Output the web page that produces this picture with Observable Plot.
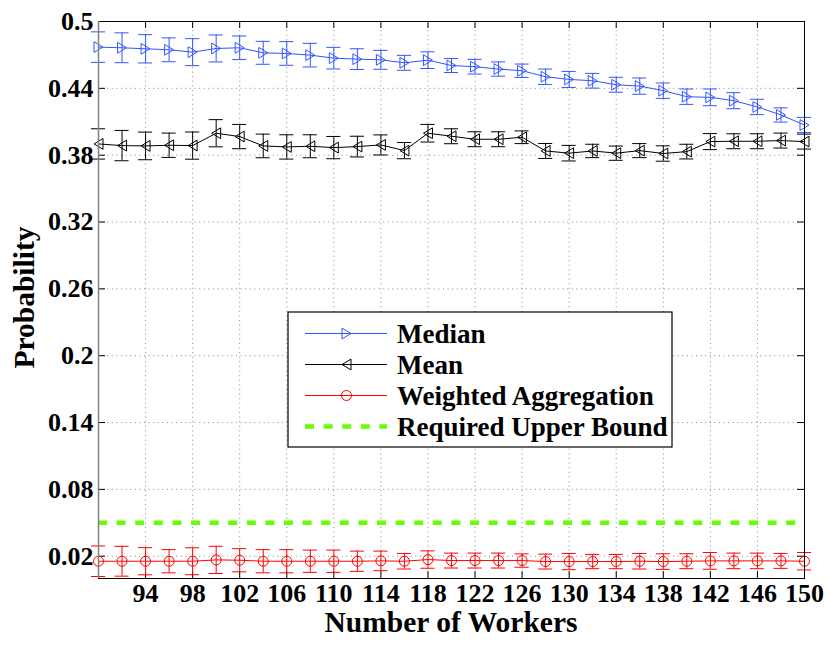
<!DOCTYPE html>
<html>
<head>
<meta charset="utf-8">
<script src="https://cdn.jsdelivr.net/npm/d3@7"></script>
<script src="https://cdn.jsdelivr.net/npm/@observablehq/plot@0.6"></script>
<style>
  body { margin: 0; background: #fff; }
  #chart svg { overflow: visible; display: block; }
</style>
</head>
<body>
<div id="chart"></div>
<script>
// ---- data ----
const workers = [90,92,94,96,98,100,102,104,106,108,110,112,114,116,118,120,122,124,126,128,130,132,134,136,138,140,142,144,146,148,150];
const median = [0.477,0.4764,0.4755,0.4746,0.4725,0.4758,0.4764,0.4719,0.4713,0.4698,0.4671,0.4662,0.4656,0.4629,0.4653,0.4605,0.4594,0.4573,0.4558,0.4504,0.448,0.4468,0.4432,0.442,0.4379,0.4325,0.4319,0.4289,0.4233,0.4161,0.4071];
const medianErr = [0.0137,0.0134,0.0127,0.0107,0.0121,0.0121,0.0106,0.0103,0.0106,0.0106,0.0097,0.0093,0.0085,0.0067,0.0075,0.0063,0.0066,0.0064,0.006,0.0069,0.0072,0.0066,0.0067,0.0073,0.0069,0.0069,0.0075,0.0072,0.0069,0.0064,0.0068];
const mean = [0.3901,0.3886,0.3883,0.3889,0.3886,0.3997,0.3967,0.3883,0.3874,0.388,0.3868,0.3877,0.3892,0.3841,0.3997,0.397,0.3943,0.3943,0.3961,0.3838,0.3818,0.3838,0.3818,0.3841,0.3815,0.3832,0.3922,0.3925,0.3925,0.3931,0.3922];
const meanErr = [0.0136,0.0136,0.0124,0.0109,0.0122,0.0122,0.0109,0.0106,0.0109,0.0103,0.01,0.0093,0.009,0.0073,0.0079,0.0067,0.0067,0.0067,0.0057,0.0067,0.007,0.006,0.0064,0.0063,0.0069,0.0066,0.0072,0.0067,0.0067,0.0067,0.0067];
const weighted = [0.0155,0.0155,0.0155,0.0155,0.0155,0.0167,0.0164,0.0155,0.0155,0.0155,0.0155,0.0155,0.0158,0.0155,0.017,0.0161,0.0161,0.0161,0.0161,0.0152,0.0152,0.0152,0.0152,0.0155,0.0152,0.0155,0.0158,0.0158,0.0158,0.0158,0.0155];
const weightedErr = [0.0137,0.0134,0.0122,0.0104,0.0121,0.0122,0.0104,0.0104,0.0104,0.01,0.01,0.0091,0.0088,0.007,0.0078,0.0067,0.0067,0.0067,0.006,0.0067,0.0073,0.0064,0.0064,0.007,0.007,0.0067,0.0075,0.007,0.007,0.0067,0.0078];
const upperBound = [0.05];
const seriesNames = ["Median", "Mean", "Weighted Aggregation", "Required Upper Bound"];
const xTicks = [94,98,102,106,110,114,118,122,126,130,134,138,142,146,150];
const yTicks = [0.02,0.08,0.14,0.2,0.26,0.32,0.38,0.44,0.5];
const xLabel = "Number of Workers";
const yLabel = "Probability";

// ---- styles ----
const W = 830, H = 647;
const mL = 98, mR = 26, mT = 21, mB = 69;
const innerW = W - mL - mR, innerH = H - mT - mB;
const FONT = "Liberation Serif, Times New Roman, serif";
const BLUE = "#3355ff", BLACK = "#000000", RED = "#ff0000", GREEN = "#66ff00";
const capHalf = 0.6; // error-bar cap half width in x units

// custom marker shapes
const triRight = { draw(ctx, size) { const s = Math.sqrt(size / Math.PI); ctx.moveTo(s, 0); ctx.lineTo(-s, -1.2 * s); ctx.lineTo(-s, 1.2 * s); ctx.closePath(); } };
const triLeft  = { draw(ctx, size) { const s = Math.sqrt(size / Math.PI); ctx.moveTo(-s, 0); ctx.lineTo(s, -1.2 * s); ctx.lineTo(s, 1.2 * s); ctx.closePath(); } };

function rows(vals, errs) {
  return workers.map((x, i) => ({x, y: vals[i], lo: vals[i] - errs[i], hi: vals[i] + errs[i]}));
}
const series = [
  {data: rows(median, medianErr), color: BLUE, symbol: triRight, r: 4.5},
  {data: rows(mean, meanErr), color: BLACK, symbol: triLeft, r: 4.5},
  {data: rows(weighted, weightedErr), color: RED, symbol: "circle", r: 5}
];

const marks = [
  Plot.ruleY(yTicks, {stroke: "#8a8a8a", strokeWidth: 1, strokeDasharray: "1,3.6"}),
  Plot.ruleX(xTicks, {stroke: "#8a8a8a", strokeWidth: 1, strokeDasharray: "1,3.6"}),
  Plot.ruleY(upperBound, {stroke: GREEN, strokeWidth: 4.5, strokeDasharray: "9,9.6"}),
  // inward ticks
  Plot.ruleX(xTicks, {stroke: "#000", insetTop: innerH - 7}),
  Plot.ruleX(xTicks, {stroke: "#000", insetBottom: innerH - 7}),
  Plot.ruleY(yTicks, {stroke: "#000", insetLeft: innerW - 7}),
  Plot.ruleY(yTicks, {stroke: "#000", insetRight: innerW - 7}),
];
for (const s of series) {
  marks.push(
    Plot.line(s.data, {x: "x", y: "y", stroke: s.color, strokeWidth: 1}),
    Plot.ruleX(s.data, {x: "x", y1: "lo", y2: "hi", stroke: s.color, strokeWidth: 1}),
    Plot.ruleY(s.data, {y: "hi", x1: d => d.x - capHalf, x2: d => d.x + capHalf, stroke: s.color, strokeWidth: 1}),
    Plot.ruleY(s.data, {y: "lo", x1: d => d.x - capHalf, x2: d => d.x + capHalf, stroke: s.color, strokeWidth: 1}),
    Plot.dot(s.data, {x: "x", y: "y", symbol: s.symbol, r: s.r, stroke: s.color, fill: "none", strokeWidth: 1})
  );
}
marks.push(
  Plot.frame({stroke: "#000", strokeWidth: 1}),
  Plot.ruleX([90], {stroke: "#808080", strokeWidth: 1.5}),
  Plot.axisX({ticks: xTicks, tickSize: 0, tickPadding: 5, fontSize: 26, fontWeight: "bold", fontFamily: FONT, label: null}),
  Plot.axisY({ticks: yTicks, tickSize: 0, tickPadding: 5, fontSize: 26, fontWeight: "bold", fontFamily: FONT, label: null,
              tickFormat: d => String(+d.toFixed(2))})
);

const plot = Plot.plot({
  width: W, height: H,
  marginLeft: mL, marginRight: mR, marginTop: mT, marginBottom: mB,
  style: {fontFamily: FONT, fontSize: "26px", fontWeight: "bold", background: "#fff", color: "#000"},
  x: {domain: [90, 150]},
  y: {domain: [0, 0.5]},
  marks
});
document.getElementById("chart").appendChild(plot);

// ---- axis titles and legend ----
const svg = d3.select(plot);
const xs = plot.scale("x"), ys = plot.scale("y");
svg.append("text")
  .attr("x", (xs.apply(90) + xs.apply(150)) / 2).attr("y", 632)
  .attr("text-anchor", "middle").attr("font-family", FONT).attr("font-size", 29.5).attr("font-weight", "bold")
  .attr("fill", "#000").text(xLabel);
svg.append("text")
  .attr("transform", `translate(33.5,${(ys.apply(0) + ys.apply(0.5)) / 2 - 2}) rotate(-90)`)
  .attr("text-anchor", "middle").attr("font-family", FONT).attr("font-size", 29.5).attr("font-weight", "bold")
  .attr("fill", "#000").text(yLabel);

const lg = svg.append("g").attr("transform", "translate(288,312)");
lg.append("rect").attr("width", 384).attr("height", 135).attr("fill", "#fff").attr("stroke", "#000").attr("stroke-width", 1.2);
const legendItems = [
  {name: seriesNames[0], color: BLUE, sym: triRight, r: 4.5},
  {name: seriesNames[1], color: BLACK, sym: triLeft, r: 4.5},
  {name: seriesNames[2], color: RED, sym: d3.symbolCircle, r: 5},
  {name: seriesNames[3], color: GREEN, dashed: true}
];
legendItems.forEach((it, i) => {
  const cy = 21.5 + i * 31;
  const g = lg.append("g").attr("transform", `translate(0,${cy})`);
  if (it.dashed) {
    g.append("line").attr("x1", 17).attr("x2", 99).attr("stroke", it.color).attr("stroke-width", 4.5).attr("stroke-dasharray", "9,9.6");
  } else {
    g.append("line").attr("x1", 17).attr("x2", 99).attr("stroke", it.color).attr("stroke-width", 1);
    g.append("path").attr("transform", "translate(58.5,0)")
      .attr("d", d3.symbol(it.sym, Math.PI * it.r * it.r)())
      .attr("fill", "none").attr("stroke", it.color).attr("stroke-width", 1);
  }
  g.append("text").attr("x", 109).attr("y", 0).attr("dy", "0.34em").attr("text-anchor", "start")
    .attr("font-family", FONT).attr("font-size", 27).attr("font-weight", "bold").attr("fill", "#000").text(it.name);
});
</script>
</body>
</html>
